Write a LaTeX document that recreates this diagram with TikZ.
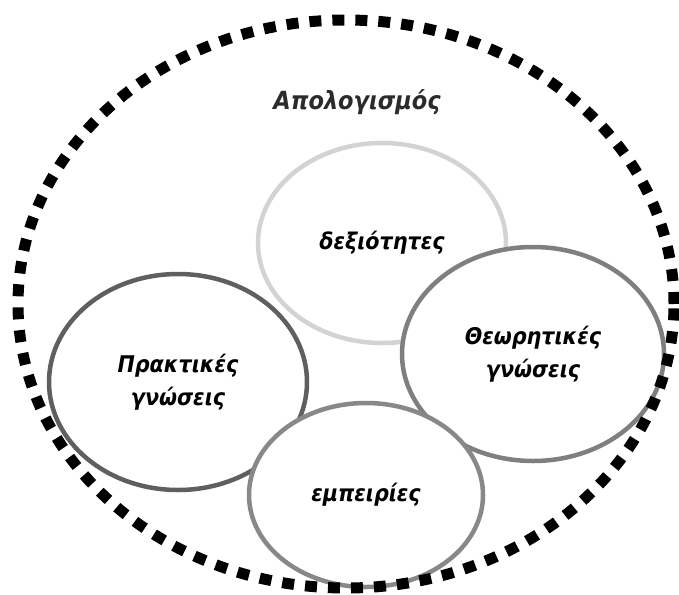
\documentclass[tikz,border=0pt]{standalone}
\usepackage{fontspec}
\setmainfont{DejaVu Sans Condensed}
\usetikzlibrary{shapes.geometric}
\definecolor{ringlight}{HTML}{D3D3D5}
\definecolor{ringdark}{HTML}{5F5F61}
\definecolor{ringmid}{HTML}{7F7F82}
\definecolor{ringgray}{HTML}{88888B}
\definecolor{dotted}{HTML}{2B2B2B}
\begin{document}
\begin{tikzpicture}[x=1pt,y=-1pt,line join=round,
  font=\bfseries\itshape\fontsize{23}{33}\selectfont,
  ring/.style={ellipse,draw,fill=white,line width=4.5pt,inner sep=0pt,align=center}]
	\useasboundingbox (0,0) rectangle (679,594);
	\node[ring,draw=ringlight,minimum width=248pt,minimum height=200pt] (skills) at (382,243) {δεξιότητες};
	\node[ring,draw=ringdark,minimum width=258pt,minimum height=216pt] (practice) at (178,382) {Πρακτικές\\γνώσεις};
	\node[ring,draw=ringmid,minimum width=262pt,minimum height=214pt] (theory) at (533,354) {Θεωρητικές\\γνώσεις};
	\node[ring,draw=ringgray,minimum width=234pt,minimum height=184pt] (experience) at (366,495) {εμπειρίες};
	\node[text=dotted,font=\bfseries\itshape\fontsize{25}{28}\selectfont] (review) at (357,102) {Απολογισμός};
	\draw[dotted,line width=11pt,dash pattern=on 12pt off 11pt] (346,304) ellipse [x radius=328pt,y radius=284pt];
\end{tikzpicture}
\end{document}
